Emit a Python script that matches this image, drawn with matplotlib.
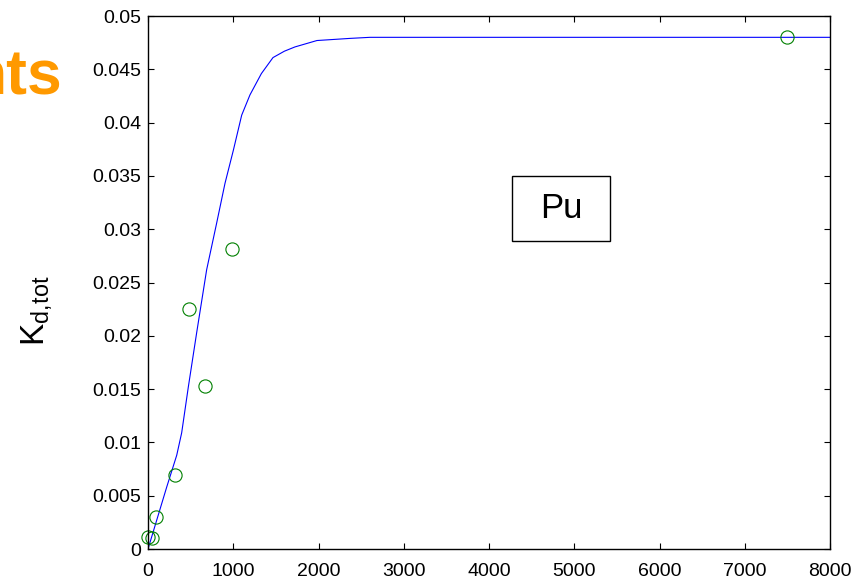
import matplotlib.pyplot as plt
from matplotlib.patches import Rectangle

plt.rcParams['font.family'] = ['Liberation Sans', 'DejaVu Sans']

# measured Kd,tot values
meas_x = [4, 43, 94, 317, 485, 669, 982, 7500]
meas_y = [0.00115, 0.0010, 0.0030, 0.0069, 0.0225, 0.0153, 0.0281, 0.048]

# model curve
fit_x = [0, 102, 219, 337, 395, 473, 571, 688, 806, 903, 1001, 1099,
         1196, 1330, 1466, 1600, 1724, 1982, 2370, 2604, 8000]
fit_y = [0.0, 0.0027, 0.0058, 0.0088, 0.0109, 0.0152, 0.0203, 0.0262,
         0.0306, 0.0343, 0.0374, 0.0407, 0.0426, 0.0446, 0.0461, 0.0467,
         0.0471, 0.0477, 0.0479, 0.0480, 0.0480]

xticks = [0, 1000, 2000, 3000, 4000, 5000, 6000, 7000, 8000]
yticks = [0, 0.005, 0.01, 0.015, 0.02, 0.025, 0.03, 0.035, 0.04, 0.045, 0.05]
ytick_labels = ['0', '0.005', '0.01', '0.015', '0.02', '0.025', '0.03',
                '0.035', '0.04', '0.045', '0.05']

fig = plt.figure(figsize=(8.57, 5.82), dpi=100)
ax = fig.add_axes([0.1727, 0.0567, 0.7958, 0.9158])

ax.plot(fit_x, fit_y, color='blue', linewidth=0.8)
ax.plot(meas_x, meas_y, 'o', markerfacecolor='none', markeredgecolor='#008000',
        markersize=9.5, markeredgewidth=0.8, clip_on=False)

ax.set_xlim(0, 8000)
ax.set_ylim(0, 0.05)
ax.set_xticks(xticks)
ax.set_xticklabels([str(t) for t in xticks])
ax.set_yticks(yticks)
ax.set_yticklabels(ytick_labels)
ax.tick_params(direction='in', length=4, width=0.8, top=True, right=True,
               labelsize=14)
ax.tick_params(axis='x', pad=10)
ax.tick_params(axis='y', pad=5)
for s in ax.spines.values():
    s.set_linewidth(1.0)

ax.set_ylabel(r'$\mathregular{K_{d,\!tot}}$', fontsize=24)
ax.yaxis.set_label_coords(-0.138, 0.447)

# element label box
ax.add_patch(Rectangle((4270, 0.0289), 1150, 0.0061, facecolor='white',
                       edgecolor='black', linewidth=1.0, zorder=3))
ax.text(4845, 0.0319, 'Pu', fontsize=25, ha='center', va='center', zorder=4)

# leftover slide heading
fig.text(63 / 857, 1 - 78 / 582, 'nts', color='#FF9900', fontsize=45,
         fontweight='bold', ha='right', va='center')

fig.savefig('out.png', dpi=100)
